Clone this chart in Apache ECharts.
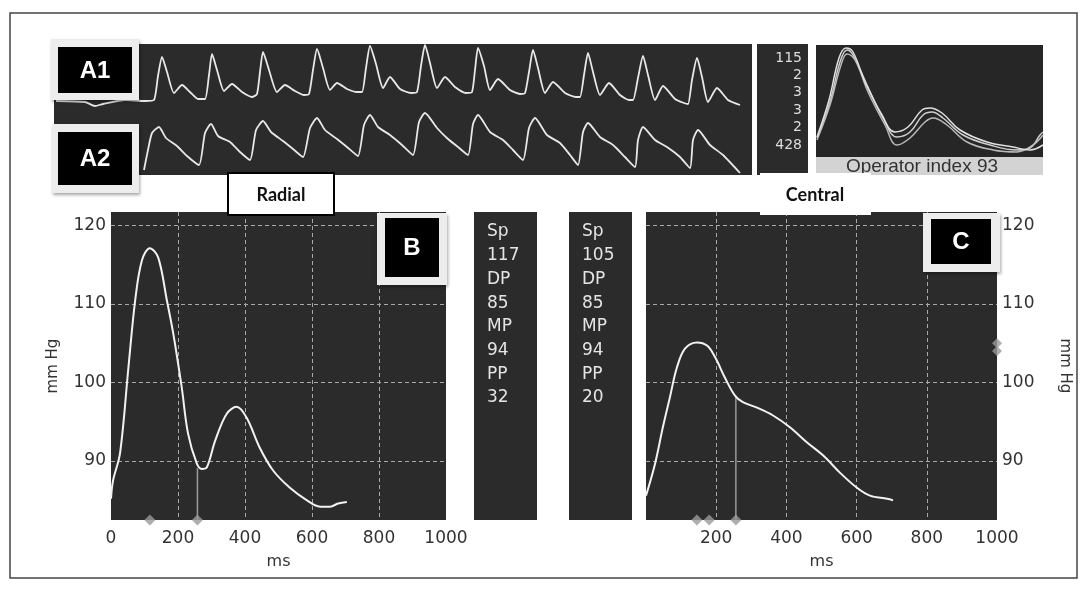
<!DOCTYPE html>
<html>
<head>
<meta charset="utf-8">
<script src="https://cdn.jsdelivr.net/npm/echarts@6/dist/echarts.min.js"></script>
<style>
  html, body { margin: 0; padding: 0; background: #fff; }
  #main { width: 1088px; height: 590px; }
</style>
</head>
<body>
<div id="main"></div>
<script>
  // radial (B) averaged pulse, ms / mmHg
  var radialMs = [0, 6, 27, 52, 72, 92, 116, 141, 167, 186, 211, 230, 256, 271, 286, 311, 345, 375, 405, 444, 484, 534, 585, 624, 654, 678, 704];
  var radialP = [85.2, 87.5, 91.0, 101.9, 110.4, 115.5, 117.1, 115.9, 110.4, 106.2, 99.4, 93.5, 89.7, 89.0, 89.2, 92.6, 96.0, 96.9, 95.5, 91.7, 88.8, 86.6, 85.0, 84.2, 84.2, 84.6, 84.8];
  var radialMarkMs = [116, 258];
  var radialFoot = [258, 89.1];

  // central (C) derived pulse
  var centralMs = [0, 26, 48, 68, 88, 111, 145, 174, 197, 225, 254, 276, 316, 362, 410, 458, 505, 553, 601, 638, 687, 704];
  var centralP = [85.6, 89.7, 94.3, 98.1, 101.9, 104.3, 105.1, 104.7, 103.2, 100.6, 98.3, 97.5, 96.8, 95.8, 94.3, 92.4, 90.7, 88.5, 86.6, 85.6, 85.2, 85.0];
  var centralMarkMs = [145, 180, 256];
  var centralFoot = [256, 98.3];
  var centralSideMarks = [105, 104];

  var yTicks = [90, 100, 110, 120];

  // raw strip traces A1 / A2 (arbitrary units)
  var a1Trace = [[2,74],[31,73],[41,69],[49,71],[71,75],[91,74],[100,75],[104,99],[108,118],[113,103],[120,82],[128,90],[136,83],[144,76],[151,76],
    [155,100],[158,121],[163,105],[170,84],[178,91],[188,83],[198,78],[203,81],
    [206,103],[209,123],[215,105],[223,83],[231,90],[241,84],[250,80],[255,81],
    [259,105],[263,126],[269,107],[276,85],[283,92],[293,86],[303,83],[308,83],
    [312,107],[316,129],[322,111],[329,87],[336,98],[346,86],[357,82],[363,83],
    [367,109],[371,130],[376,112],[383,87],[391,98],[401,88],[412,82],[418,83],
    [421,105],[424,127],[430,109],[436,85],[444,96],[456,85],[466,81],[471,82],
    [475,103],[479,125],[484,107],[491,82],[499,93],[511,82],[522,78],[526,78],
    [530,100],[534,122],[539,103],[546,80],[555,92],[566,80],[575,75],[579,75],
    [584,97],[589,119],[594,100],[601,75],[609,89],[621,76],[630,72],[634,71],
    [638,95],[643,117],[648,98],[654,73],[663,87],[674,75],[686,70]];
  var a2Trace = [[90,5],[94,25],[98,42],[105,48],[112,37],[123,29],[133,19],[145,10],
    [151,42],[157,51],[164,39],[176,33],[186,23],[196,15],
    [202,45],[209,54],[217,43],[229,34],[239,26],[249,18],
    [256,47],[263,57],[271,45],[283,36],[293,28],[304,19],
    [310,50],[316,60],[324,48],[336,40],[348,30],[359,20],
    [365,53],[371,62],[383,47],[394,36],[404,28],[414,20],
    [419,51],[424,60],[436,43],[449,35],[459,25],[469,15],
    [475,47],[481,57],[493,40],[506,32],[516,20],[524,10],
    [529,43],[534,52],[546,38],[559,30],[571,18],[581,8],
    [584,35],[589,48],[601,35],[613,28],[626,18],[636,7],
    [639,35],[644,45],[656,30],[669,20],[686,2]];

  // operator index overlay (three beats)
  var oiBeat1 = [[1,19],[14,55],[24,95],[31,107],[37,102],[51,72],[67,39],[81,20],[94,25],[107,42],[116,45],[127,39],[147,22],[174,12],[201,7],[214,9],[224,22],[227,25]];
  var oiBeat2 = [[1,17],[14,52],[25,92],[31,103],[39,97],[52,65],[69,32],[81,12],[94,19],[109,35],[117,39],[131,32],[151,15],[177,7],[201,5],[217,12],[227,22]];
  var oiBeat3 = [[1,20],[13,57],[23,99],[30,109],[37,105],[49,75],[66,42],[79,25],[92,30],[106,47],[114,49],[126,44],[144,27],[171,15],[197,10],[214,7],[227,12]];

  var sideNumbers = ['115', '2', '3', '3', '2', '428'];
  var radialStats = ['Sp', '117', 'DP', '85', 'MP', '94', 'PP', '32'];
  var centralStats = ['Sp', '105', 'DP', '85', 'MP', '94', 'PP', '20'];
  var operatorText = 'Operator index 93';

  var chart = echarts.init(document.getElementById('main'));

  var lineCol = '#f2f2f2';
  var panelBg = '#2b2b2b';
  var axisFont = 'DejaVu Sans';

  function zip(xs, ys) {
    var out = [];
    for (var i = 0; i < xs.length; i++) out.push([xs[i], ys[i]]);
    return out;
  }

  function msAxis(idx, showMin) {
    return {
      type: 'value', gridIndex: idx, min: 0, max: 1000, interval: 200,
      name: 'ms', nameLocation: 'middle', nameGap: 34,
      nameTextStyle: {color: '#333', fontSize: 16, fontFamily: axisFont},
      axisLine: {show: false}, axisTick: {show: false},
      axisLabel: {color: '#333', fontSize: 17, fontFamily: axisFont, margin: 10, showMinLabel: showMin,
        formatter: function (v) { return String(v); }},
      splitLine: {show: true, showMinLine: false, showMaxLine: false, lineStyle: {color: '#a8a8a8', type: [4, 3], width: 1}}
    };
  }
  function mmAxis(idx, pos) {
    return {
      type: 'value', gridIndex: idx, min: 82.5, max: 121.7, position: pos,
      name: 'mm Hg', nameLocation: 'middle', nameGap: pos == 'left' ? 50 : 60,
      nameRotate: pos == 'left' ? 90 : -90,
      nameTextStyle: {color: '#333', fontSize: 15, fontFamily: axisFont},
      axisLine: {show: false},
      axisTick: {show: false, customValues: yTicks},
      axisLabel: {color: '#333', fontSize: 17, fontFamily: axisFont, margin: 5, customValues: yTicks},
      splitLine: {show: true, lineStyle: {color: '#a8a8a8', type: [4, 3], width: 1}}
    };
  }
  function plainAxis(idx, max) {
    return {type: 'value', gridIndex: idx, min: 0, max: max, show: false};
  }

  var graphics = [];
  // outer frame
  graphics.push({type: 'rect', shape: {x: 10, y: 13, width: 1067, height: 565}, style: {fill: 'none', stroke: '#444', lineWidth: 1.5}});
  // numbers panel
  graphics.push({type: 'rect', shape: {x: 757, y: 44, width: 51, height: 131}, style: {fill: panelBg}});
  sideNumbers.forEach(function (t, i) {
    graphics.push({type: 'text', style: {text: t, x: 802, y: 58 + i * 17.4, fill: '#ddd', font: '14px "DejaVu Sans"', textAlign: 'right', textVerticalAlign: 'middle'}});
  });
  // operator band
  graphics.push({type: 'rect', shape: {x: 816, y: 157, width: 227, height: 18}, style: {fill: '#d3d3d3'}});
  graphics.push({type: 'text', style: {text: operatorText, x: 922, y: 167, fill: '#333', font: '19px "Liberation Sans"', textAlign: 'center', textVerticalAlign: 'middle'}});
  // stats columns
  [[474, radialStats], [569, centralStats]].forEach(function (c) {
    graphics.push({type: 'rect', shape: {x: c[0], y: 212, width: 63, height: 308}, style: {fill: panelBg}});
    c[1].forEach(function (t, i) {
      graphics.push({type: 'text', style: {text: t, x: c[0] + 13, y: 232 + i * 23.7, fill: '#e4e4e4', font: '17px "DejaVu Sans"', textAlign: 'left', textVerticalAlign: 'middle'}});
    });
  });
  // letter tags
  function tag(ox, oy, ow, oh, ix, iy, iw, ih, label, size) {
    graphics.push({type: 'rect', z: 100, shape: {x: ox, y: oy, width: ow, height: oh},
      style: {fill: '#ededed', shadowBlur: 3, shadowColor: 'rgba(0,0,0,0.35)', shadowOffsetX: 1, shadowOffsetY: 2}});
    graphics.push({type: 'rect', z: 101, shape: {x: ix, y: iy, width: iw, height: ih}, style: {fill: '#000'}});
    graphics.push({type: 'text', z: 102, style: {text: label, x: ix + iw / 2, y: iy + ih / 2 + 1, fill: '#fff',
      font: 'bold ' + size + 'px "Liberation Sans"', textAlign: 'center', textVerticalAlign: 'middle'}});
  }
  tag(51, 39, 88, 61, 58, 47, 74, 46, 'A1', 24);
  tag(52, 124, 87, 69, 58, 132, 74, 53, 'A2', 24);
  tag(377, 213, 70, 72, 385, 218, 54, 59, 'B', 24);
  tag(923, 213, 77, 59, 931, 219, 60, 45, 'C', 24);
  // site captions
  graphics.push({type: 'rect', z: 100, shape: {x: 228, y: 173, width: 106, height: 42}, style: {fill: '#fff', stroke: '#000', lineWidth: 2}});
  graphics.push({type: 'text', z: 101, style: {text: 'Radial', x: 281, y: 195, fill: '#111', font: 'bold 18px Lato', textAlign: 'center', textVerticalAlign: 'middle'}});
  graphics.push({type: 'rect', z: 100, shape: {x: 760, y: 173, width: 111, height: 42}, style: {fill: '#fff'}});
  graphics.push({type: 'text', z: 101, style: {text: 'Central', x: 815, y: 195, fill: '#111', font: 'bold 18px Lato', textAlign: 'center', textVerticalAlign: 'middle'}});

  var gridBox = {show: true, backgroundColor: panelBg, borderWidth: 0};

  var option = {
    animation: false,
    backgroundColor: '#fff',
    grid: [
      Object.assign({left: 111, top: 212, width: 335, height: 308}, gridBox),
      Object.assign({left: 646, top: 212, width: 351, height: 308}, gridBox),
      Object.assign({left: 54, top: 44, width: 698, height: 131}, gridBox),
      {show: true, backgroundColor: '#262626', borderWidth: 0, left: 816, top: 45, width: 227, height: 112}
    ],
    xAxis: [msAxis(0, true), msAxis(1, false), plainAxis(2, 698), plainAxis(3, 227)],
    yAxis: [mmAxis(0, 'left'), mmAxis(1, 'right'), plainAxis(2, 131), plainAxis(3, 112)],
    graphic: graphics,
    series: [
      {type: 'line', xAxisIndex: 0, yAxisIndex: 0, data: zip(radialMs, radialP), smooth: 0.35, showSymbol: false,
        lineStyle: {color: lineCol, width: 2}, z: 5},
      {type: 'line', xAxisIndex: 0, yAxisIndex: 0, data: [[radialFoot[0], 82.5], radialFoot], showSymbol: false,
        lineStyle: {color: '#9a9a9a', width: 1.5}},
      {type: 'scatter', xAxisIndex: 0, yAxisIndex: 0, clip: false, symbol: 'diamond', symbolSize: 11,
        itemStyle: {color: '#9a9a9a'}, data: radialMarkMs.map(function (v) { return [v, 82.5]; })},
      {type: 'line', xAxisIndex: 1, yAxisIndex: 1, data: zip(centralMs, centralP), smooth: 0.35, showSymbol: false,
        lineStyle: {color: lineCol, width: 2}, z: 5},
      {type: 'line', xAxisIndex: 1, yAxisIndex: 1, data: [[centralFoot[0], 82.5], centralFoot], showSymbol: false,
        lineStyle: {color: '#9a9a9a', width: 1.5}},
      {type: 'scatter', xAxisIndex: 1, yAxisIndex: 1, clip: false, symbol: 'diamond', symbolSize: 11,
        itemStyle: {color: '#9a9a9a'}, data: centralMarkMs.map(function (v) { return [v, 82.5]; })},
      {type: 'scatter', xAxisIndex: 1, yAxisIndex: 1, clip: false, symbol: 'diamond', symbolSize: 10,
        itemStyle: {color: '#9a9a9a'}, data: centralSideMarks.map(function (v) { return [1000, v]; })},
      {type: 'line', xAxisIndex: 2, yAxisIndex: 2, data: a1Trace, smooth: 0.2, showSymbol: false,
        lineStyle: {color: '#e8e8e8', width: 1.8}},
      {type: 'line', xAxisIndex: 2, yAxisIndex: 2, data: a2Trace, smooth: 0.2, showSymbol: false,
        lineStyle: {color: '#e8e8e8', width: 1.8}},
      {type: 'line', xAxisIndex: 3, yAxisIndex: 3, data: oiBeat1, smooth: 0.4, showSymbol: false,
        lineStyle: {color: '#cfcfcf', width: 1.5}},
      {type: 'line', xAxisIndex: 3, yAxisIndex: 3, data: oiBeat2, smooth: 0.4, showSymbol: false,
        lineStyle: {color: '#b8b8b8', width: 1.5}},
      {type: 'line', xAxisIndex: 3, yAxisIndex: 3, data: oiBeat3, smooth: 0.4, showSymbol: false,
        lineStyle: {color: '#e0e0e0', width: 1.5}}
    ]
  };

  chart.setOption(option);
</script>
</body>
</html>
